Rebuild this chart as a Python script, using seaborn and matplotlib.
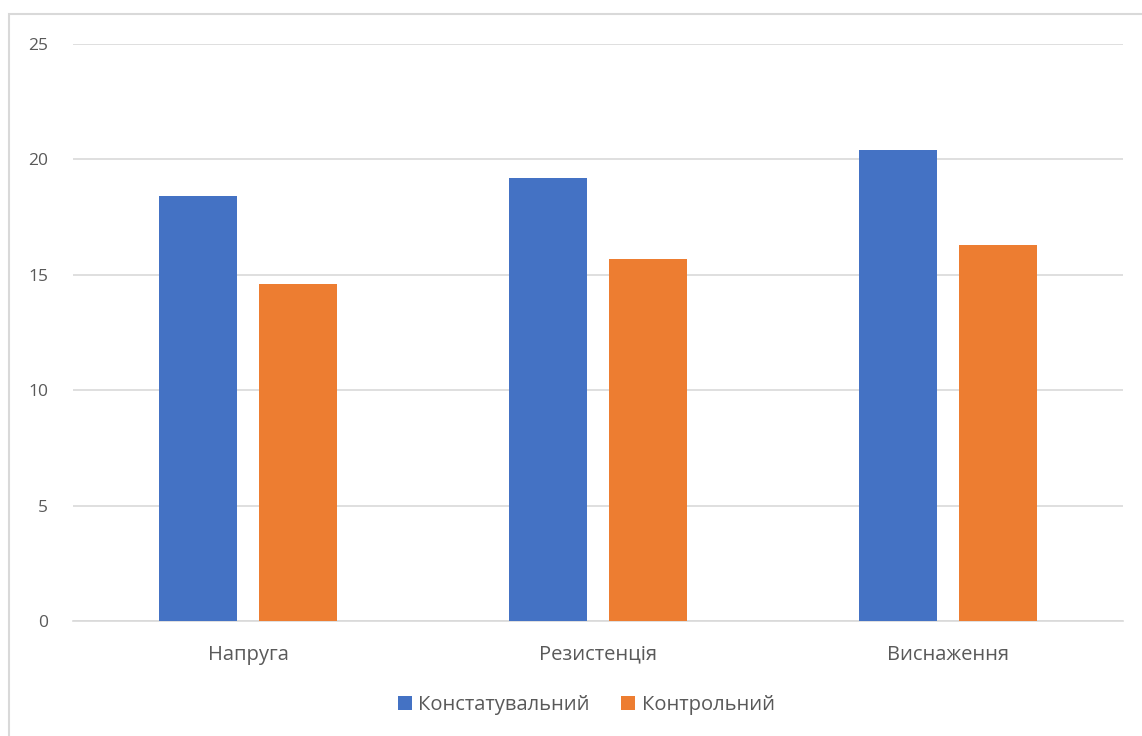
import matplotlib
matplotlib.use("Agg")
import matplotlib.pyplot as plt
from matplotlib.patches import Rectangle, Patch
import pandas as pd
import seaborn as sns

categories = ["Напруга", "Резистенція", "Виснаження"]
series_names = ["Констатувальний", "Контрольний"]
konstatuvalnyi = [18.4, 19.2, 20.4]
kontrolnyi = [14.6, 15.7, 16.3]
y_ticks = [0, 5, 10, 15, 20, 25]

df = pd.DataFrame({
    "category": categories * 2,
    "series": [series_names[0]] * 3 + [series_names[1]] * 3,
    "value": konstatuvalnyi + kontrolnyi,
})

sns.set_theme(style="white")
plt.rcParams["font.family"] = ["Open Sans", "DejaVu Sans"]

W, H = 1142, 736
fig = plt.figure(figsize=(W / 100, H / 100), dpi=100)
ax = fig.add_axes([73 / W, 1 - 621 / H, (1123 - 73) / W, (621 - 44) / H])

palette = {series_names[0]: "#4472C4", series_names[1]: "#ED7D31"}
sns.barplot(data=df, x="category", y="value", hue="series", order=categories,
            hue_order=series_names, palette=palette, width=0.571, gap=0.22,
            saturation=1, linewidth=0, ax=ax, legend=False, zorder=3)

ax.set_xlim(-0.5, 2.5)
ax.set_ylim(0, 25)
ax.set_yticks(y_ticks)
ax.set_yticklabels([str(t) for t in y_ticks])
ax.yaxis.grid(True, color="#d9d9d9", linewidth=1.2, zorder=0)
ax.set_axisbelow(True)
for side in ["left", "right", "top"]:
    ax.spines[side].set_visible(False)
ax.spines["bottom"].set_color("#d9d9d9")
ax.spines["bottom"].set_linewidth(1.2)
ax.tick_params(axis="both", length=0, colors="#595959")
ax.tick_params(axis="y", pad=18, labelsize=12.5)
ax.tick_params(axis="x", pad=17, labelsize=14.5)
ax.set_xlabel("")
ax.set_ylabel("")

handles = [Patch(facecolor=palette[s], edgecolor="none") for s in series_names]
leg = fig.legend(handles, series_names, loc="center", bbox_to_anchor=(586 / W, 1 - 705 / H),
                 ncol=2, frameon=False, fontsize=14.5, handlelength=0.7, handleheight=0.7,
                 handletextpad=0.3, columnspacing=1.6)
for t in leg.get_texts():
    t.set_color("#595959")

# chart-area frame
fig.add_artist(Rectangle((9 / W, -0.05), 1.2, 1 - 14 / H + 0.05, transform=fig.transFigure,
                         fill=False, edgecolor="#d9d9d9", linewidth=1.5))

fig.savefig("out.png", dpi=100)
